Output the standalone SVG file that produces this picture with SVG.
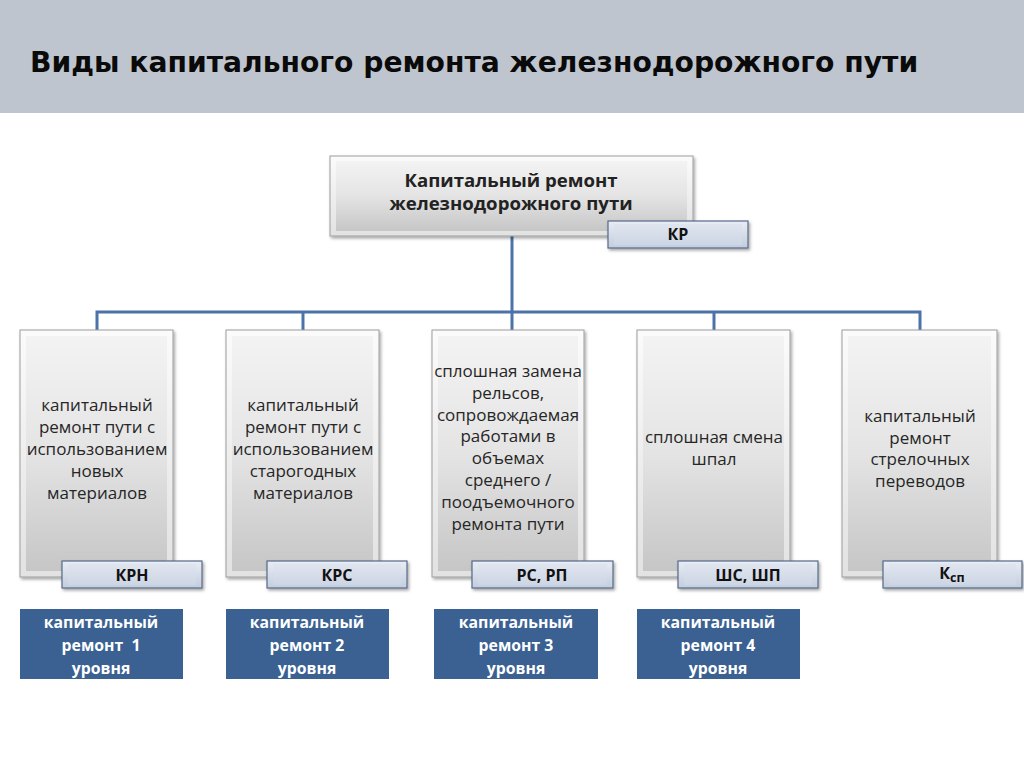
<svg xmlns="http://www.w3.org/2000/svg" width="1024" height="767" viewBox="0 0 1024 767">
<defs>
<linearGradient id="gBox" x1="0" y1="0" x2="0" y2="1">
<stop offset="0" stop-color="#fbfbfb"/>
<stop offset="1" stop-color="#e2e2e2"/>
</linearGradient>
<linearGradient id="gBoxIn" x1="0" y1="0" x2="0" y2="1">
<stop offset="0" stop-color="#f3f3f3"/>
<stop offset="0.5" stop-color="#e4e4e4"/>
<stop offset="1" stop-color="#c6c6c6"/>
</linearGradient>
<linearGradient id="gTab" x1="0" y1="0" x2="0" y2="1">
<stop offset="0" stop-color="#e9edf4"/>
<stop offset="1" stop-color="#c3cddd"/>
</linearGradient>
<linearGradient id="gTabIn" x1="0" y1="0" x2="0" y2="1">
<stop offset="0" stop-color="#dfe5ef"/>
<stop offset="1" stop-color="#cdd6e4"/>
</linearGradient>
<filter id="sh" x="-10%" y="-10%" width="130%" height="140%">
<feDropShadow dx="1.5" dy="2" stdDeviation="1.5" flood-color="#000" flood-opacity="0.35"/>
</filter>
</defs>
<style>
.box{fill:url(#gBox);stroke:#9d9d9d;stroke-width:1;filter:url(#sh)}
.boxin{fill:url(#gBoxIn)}
.tab{fill:url(#gTab);stroke:#566a8a;stroke-width:1.2;filter:url(#sh)}
.tabin{fill:url(#gTabIn)}
.blue{fill:#3a6192}
.conn{fill:none;stroke:#4a73a8;stroke-width:3}
.t{font-family:"Open Sans","Liberation Sans",sans-serif;font-size:17px;fill:#262626;text-anchor:middle}
.tb{font-family:"Open Sans","Liberation Sans",sans-serif;font-size:18.6px;font-weight:bold;fill:#222;text-anchor:middle}
.tt{font-family:"Open Sans","Liberation Sans",sans-serif;font-size:16px;font-weight:bold;fill:#111;text-anchor:middle}
.tw{font-family:"Open Sans","Liberation Sans",sans-serif;font-size:15.8px;font-weight:bold;fill:#fff;text-anchor:middle;white-space:pre}
.title{font-family:"DejaVu Sans",Verdana,sans-serif;font-size:28.2px;font-weight:bold;fill:#0a0a0a}
</style>
<rect x="0" y="0" width="1024" height="767" fill="#fff"/>
<g id="header">
<rect x="0" y="0" width="1024" height="113" fill="#bfc5ce"/>
<text class="title" x="30" y="72">Виды капитального ремонта железнодорожного пути</text>
</g>
<g id="connectors">
<path class="conn" d="M512 236 V312"/>
<path class="conn" d="M97 330 V312 H920 V330"/>
<path class="conn" d="M303 312 V330"/>
<path class="conn" d="M512 312 V330"/>
<path class="conn" d="M714 312 V330"/>
</g>
<g id="root">
<rect class="box" x="330" y="156" width="363" height="80"/>
<rect class="boxin" x="336" y="161" width="351" height="70"/>
<text class="tb" x="511" y="187">Капитальный ремонт</text>
<text class="tb" x="511" y="210">железнодорожного пути</text>
</g>
<g id="root-tab">
<rect class="tab" x="608" y="221" width="140" height="27"/>
<rect class="tabin" x="614" y="224" width="128" height="21"/>
<text class="tt" x="678" y="240">КР</text>
</g>
<g id="node1">
<rect class="box" x="20" y="330" width="153" height="247"/>
<rect class="boxin" x="26" y="336" width="141" height="235"/>
<text class="t" x="97" y="411">капитальный</text>
<text class="t" x="97" y="433">ремонт пути с</text>
<text class="t" x="97" y="455">использованием</text>
<text class="t" x="97" y="477">новых</text>
<text class="t" x="97" y="499">материалов</text>
</g>
<g id="node1-tab">
<rect class="tab" x="62" y="561" width="140" height="27"/>
<rect class="tabin" x="68" y="564" width="128" height="21"/>
<text class="tt" x="132" y="580.5">КРН</text>
</g>
<g id="level1">
<rect class="blue" x="20" y="609" width="163" height="70"/>
<text class="tw" x="101" y="627.5">капитальный</text>
<text class="tw" x="101" y="650.5">ремонт  1</text>
<text class="tw" x="101" y="673.5">уровня</text>
</g>
<g id="node2">
<rect class="box" x="226" y="330" width="153" height="247"/>
<rect class="boxin" x="232" y="336" width="141" height="235"/>
<text class="t" x="303" y="411">капитальный</text>
<text class="t" x="303" y="433">ремонт пути с</text>
<text class="t" x="303" y="455">использованием</text>
<text class="t" x="303" y="477">старогодных</text>
<text class="t" x="303" y="499">материалов</text>
</g>
<g id="node2-tab">
<rect class="tab" x="267" y="561" width="140" height="27"/>
<rect class="tabin" x="273" y="564" width="128" height="21"/>
<text class="tt" x="337" y="580.5">КРС</text>
</g>
<g id="level2">
<rect class="blue" x="226" y="609" width="163" height="70"/>
<text class="tw" x="307" y="627.5">капитальный</text>
<text class="tw" x="307" y="650.5">ремонт 2</text>
<text class="tw" x="307" y="673.5">уровня</text>
</g>
<g id="node3">
<rect class="box" x="432" y="330" width="152" height="247"/>
<rect class="boxin" x="438" y="336" width="140" height="235"/>
<text class="t" x="508" y="377">сплошная замена</text>
<text class="t" x="508" y="399">рельсов,</text>
<text class="t" x="508" y="421">сопровождаемая</text>
<text class="t" x="508" y="442">работами в</text>
<text class="t" x="508" y="464">объемах</text>
<text class="t" x="508" y="486">среднего /</text>
<text class="t" x="508" y="508">поодъемочного</text>
<text class="t" x="508" y="530">ремонта пути</text>
</g>
<g id="node3-tab">
<rect class="tab" x="472" y="561" width="141" height="27"/>
<rect class="tabin" x="478" y="564" width="129" height="21"/>
<text class="tt" x="542" y="580.5">РС, РП</text>
</g>
<g id="level3">
<rect class="blue" x="434" y="609" width="164" height="70"/>
<text class="tw" x="516" y="627.5">капитальный</text>
<text class="tw" x="516" y="650.5">ремонт 3</text>
<text class="tw" x="516" y="673.5">уровня</text>
</g>
<g id="node4">
<rect class="box" x="637" y="330" width="153" height="247"/>
<rect class="boxin" x="643" y="336" width="141" height="235"/>
<text class="t" x="714" y="443">сплошная смена</text>
<text class="t" x="714" y="465">шпал</text>
</g>
<g id="node4-tab">
<rect class="tab" x="678" y="561" width="140" height="27"/>
<rect class="tabin" x="684" y="564" width="128" height="21"/>
<text class="tt" x="748" y="580.5">ШС, ШП</text>
</g>
<g id="level4">
<rect class="blue" x="637" y="609" width="163" height="70"/>
<text class="tw" x="718" y="627.5">капитальный</text>
<text class="tw" x="718" y="650.5">ремонт 4</text>
<text class="tw" x="718" y="673.5">уровня</text>
</g>
<g id="node5">
<rect class="box" x="842" y="330" width="155" height="247"/>
<rect class="boxin" x="848" y="336" width="143" height="235"/>
<text class="t" x="920" y="422">капитальный</text>
<text class="t" x="920" y="443.5">ремонт</text>
<text class="t" x="920" y="465">стрелочных</text>
<text class="t" x="920" y="486.5">переводов</text>
</g>
<g id="node5-tab">
<rect class="tab" x="883" y="561" width="139" height="27"/>
<rect class="tabin" x="889" y="564" width="127" height="21"/>
<text class="tt" x="952" y="579" font-size="17">К<tspan font-size="12.5" dy="3">сп</tspan></text>
</g>
</svg>
